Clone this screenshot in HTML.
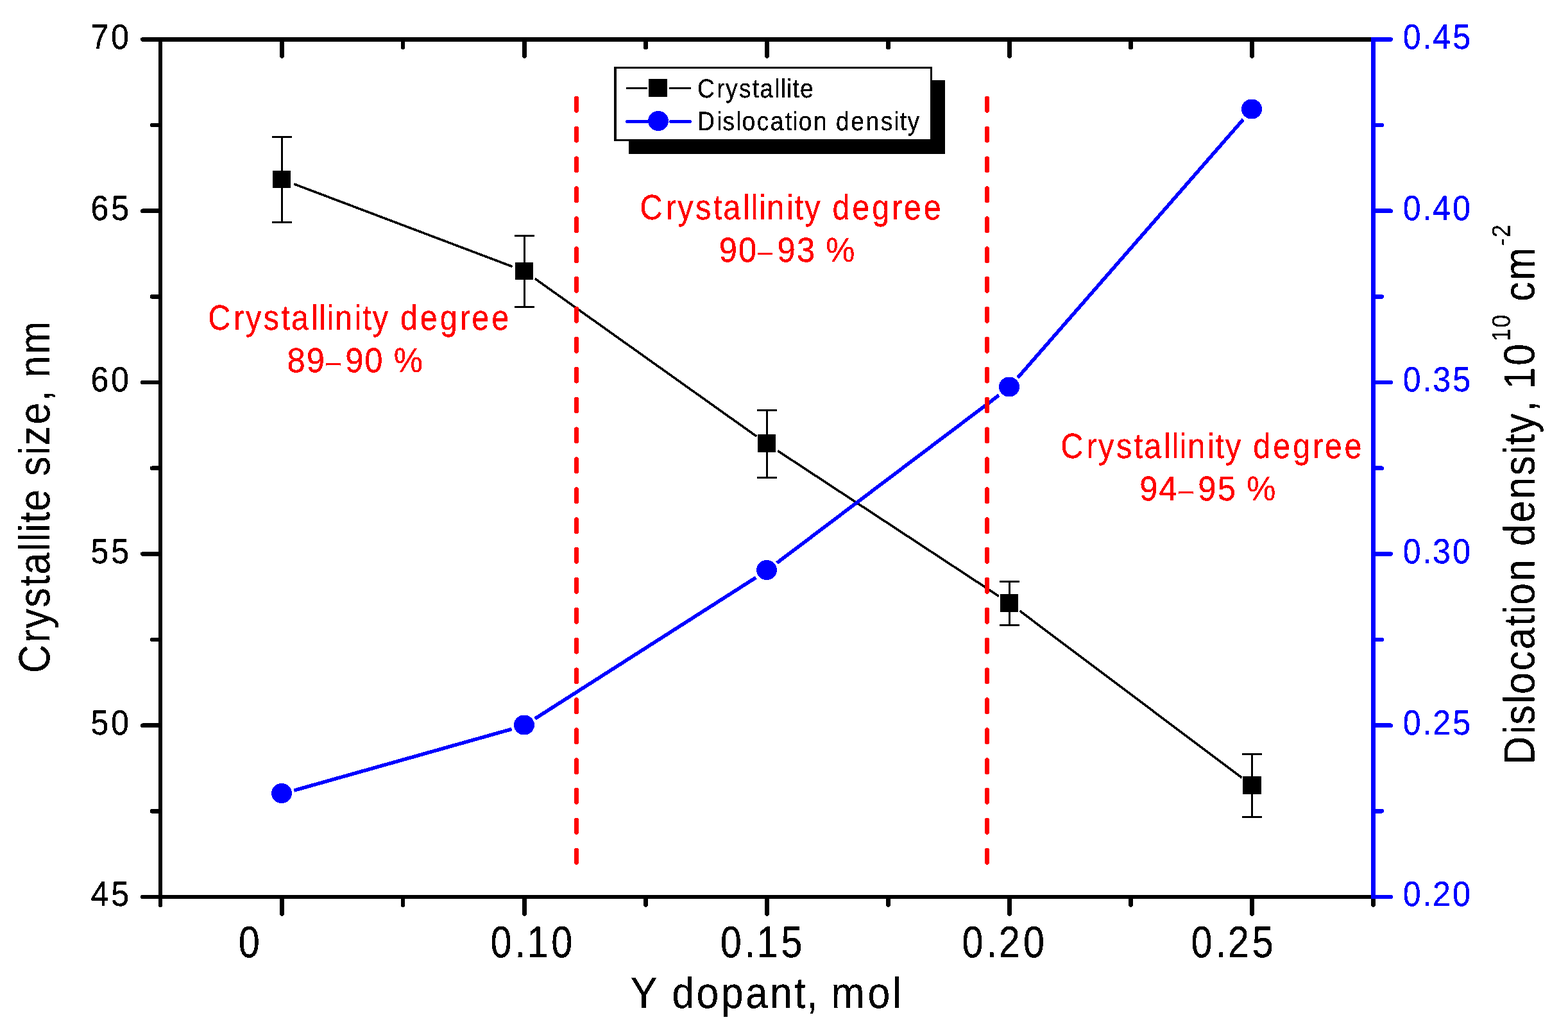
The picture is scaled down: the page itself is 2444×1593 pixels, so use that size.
<!DOCTYPE html>
<html lang="en"><head><meta charset="utf-8"><title>Crystallite size and dislocation density vs Y dopant</title>
<style>
html,body{margin:0;padding:0;background:#fff;}
body{width:2444px;height:1593px;}
svg{display:block;}
svg text{font-family:"Liberation Sans", sans-serif;white-space:pre;font-kerning:none;text-rendering:geometricPrecision;}
</style></head><body>
<svg width="2444" height="1593" viewBox="0 0 2444 1593" shape-rendering="crispEdges">
<defs>
<filter id="crisp" filterUnits="userSpaceOnUse" x="0" y="0" width="2444" height="1593" color-interpolation-filters="sRGB">
<feComponentTransfer><feFuncA type="discrete" tableValues="0 1"/></feComponentTransfer>
</filter>
</defs>
<rect x="0" y="0" width="2444" height="1593" fill="#fff"/>
<g id="series-crystallite">
<line x1="458.21" y1="286.78" x2="798.79" y2="415.62" stroke="#000" stroke-width="3.6" stroke-linecap="butt"/>
<line x1="833.80" y1="434.30" x2="1179.20" y2="680.10" stroke="#000" stroke-width="3.6" stroke-linecap="butt"/>
<line x1="1212.21" y1="702.69" x2="1556.79" y2="929.21" stroke="#000" stroke-width="3.6" stroke-linecap="butt"/>
<line x1="1589.49" y1="952.21" x2="1935.51" y2="1212.19" stroke="#000" stroke-width="3.6" stroke-linecap="butt"/>
<line x1="439.50" y1="213.50" x2="439.50" y2="346.50" stroke="#000" stroke-width="3" stroke-linecap="butt"/>
<line x1="425.50" y1="213.50" x2="453.50" y2="213.50" stroke="#000" stroke-width="3" stroke-linecap="round"/>
<line x1="425.50" y1="346.50" x2="453.50" y2="346.50" stroke="#000" stroke-width="3" stroke-linecap="round"/>
<rect x="425" y="266" width="28" height="27" fill="#000"/>
<line x1="817.50" y1="367.50" x2="817.50" y2="478.50" stroke="#000" stroke-width="3" stroke-linecap="butt"/>
<line x1="803.50" y1="367.50" x2="831.50" y2="367.50" stroke="#000" stroke-width="3" stroke-linecap="round"/>
<line x1="803.50" y1="478.50" x2="831.50" y2="478.50" stroke="#000" stroke-width="3" stroke-linecap="round"/>
<rect x="803" y="409" width="28" height="27" fill="#000"/>
<line x1="1195.50" y1="639.50" x2="1195.50" y2="744.50" stroke="#000" stroke-width="3" stroke-linecap="butt"/>
<line x1="1181.50" y1="639.50" x2="1209.50" y2="639.50" stroke="#000" stroke-width="3" stroke-linecap="round"/>
<line x1="1181.50" y1="744.50" x2="1209.50" y2="744.50" stroke="#000" stroke-width="3" stroke-linecap="round"/>
<rect x="1181" y="677" width="28" height="28" fill="#000"/>
<line x1="1573.50" y1="906.50" x2="1573.50" y2="974.50" stroke="#000" stroke-width="3" stroke-linecap="butt"/>
<line x1="1559.50" y1="906.50" x2="1587.50" y2="906.50" stroke="#000" stroke-width="3" stroke-linecap="round"/>
<line x1="1559.50" y1="974.50" x2="1587.50" y2="974.50" stroke="#000" stroke-width="3" stroke-linecap="round"/>
<rect x="1559" y="926" width="28" height="28" fill="#000"/>
<line x1="1951.50" y1="1175.50" x2="1951.50" y2="1273.50" stroke="#000" stroke-width="3" stroke-linecap="butt"/>
<line x1="1937.50" y1="1175.50" x2="1965.50" y2="1175.50" stroke="#000" stroke-width="3" stroke-linecap="round"/>
<line x1="1937.50" y1="1273.50" x2="1965.50" y2="1273.50" stroke="#000" stroke-width="3" stroke-linecap="round"/>
<rect x="1937" y="1210" width="29" height="28" fill="#000"/>
</g>
<g id="series-dislocation">
<line x1="458.25" y1="1232.08" x2="797.75" y2="1136.42" stroke="#00f" stroke-width="5.6" stroke-linecap="butt"/>
<line x1="833.85" y1="1120.23" x2="1178.15" y2="900.27" stroke="#00f" stroke-width="5.6" stroke-linecap="butt"/>
<line x1="1210.96" y1="877.45" x2="1557.04" y2="616.05" stroke="#00f" stroke-width="5.6" stroke-linecap="butt"/>
<line x1="1586.15" y1="588.93" x2="1937.85" y2="186.07" stroke="#00f" stroke-width="5.6" stroke-linecap="butt"/>
<ellipse cx="439" cy="1236.5" rx="16" ry="15.5" fill="#00f"/>
<ellipse cx="817" cy="1130" rx="16" ry="15.5" fill="#00f"/>
<ellipse cx="1195" cy="888.5" rx="16" ry="15.5" fill="#00f"/>
<ellipse cx="1573" cy="603" rx="16" ry="15.5" fill="#00f"/>
<ellipse cx="1951" cy="170" rx="16" ry="15.5" fill="#00f"/>
</g>
<g id="region-dividers">
<line x1="898.50" y1="153.20" x2="898.50" y2="1344.60" stroke="#f00" stroke-width="7" stroke-linecap="round" stroke-dasharray="19 27.88"/>
<line x1="1538.50" y1="153.20" x2="1538.50" y2="1344.60" stroke="#f00" stroke-width="7" stroke-linecap="round" stroke-dasharray="19 27.88"/>
</g>
<g id="axes">
<rect x="222" y="58" width="1918" height="7" fill="#000"/>
<line x1="222.25" y1="61.40" x2="250.00" y2="61.40" stroke="#000" stroke-width="6.5" stroke-linecap="round"/>
<line x1="439.50" y1="61.50" x2="439.50" y2="87.75" stroke="#000" stroke-width="6.5" stroke-linecap="round"/>
<line x1="817.50" y1="61.50" x2="817.50" y2="87.75" stroke="#000" stroke-width="6.5" stroke-linecap="round"/>
<line x1="1195.50" y1="61.50" x2="1195.50" y2="87.75" stroke="#000" stroke-width="6.5" stroke-linecap="round"/>
<line x1="1573.50" y1="61.50" x2="1573.50" y2="87.75" stroke="#000" stroke-width="6.5" stroke-linecap="round"/>
<line x1="1951.50" y1="61.50" x2="1951.50" y2="87.75" stroke="#000" stroke-width="6.5" stroke-linecap="round"/>
<line x1="628.00" y1="61.50" x2="628.00" y2="74.00" stroke="#000" stroke-width="6.5" stroke-linecap="round"/>
<line x1="1006.50" y1="61.50" x2="1006.50" y2="74.00" stroke="#000" stroke-width="6.5" stroke-linecap="round"/>
<line x1="1384.50" y1="61.50" x2="1384.50" y2="74.00" stroke="#000" stroke-width="6.5" stroke-linecap="round"/>
<line x1="1762.50" y1="61.50" x2="1762.50" y2="74.00" stroke="#000" stroke-width="6.5" stroke-linecap="round"/>
<rect x="222" y="1395" width="1918" height="6" fill="#000"/>
<line x1="222.25" y1="1398.00" x2="250.00" y2="1398.00" stroke="#000" stroke-width="6.5" stroke-linecap="round"/>
<line x1="439.50" y1="1398.00" x2="439.50" y2="1424.75" stroke="#000" stroke-width="6.5" stroke-linecap="round"/>
<line x1="817.50" y1="1398.00" x2="817.50" y2="1424.75" stroke="#000" stroke-width="6.5" stroke-linecap="round"/>
<line x1="1195.50" y1="1398.00" x2="1195.50" y2="1424.75" stroke="#000" stroke-width="6.5" stroke-linecap="round"/>
<line x1="1573.50" y1="1398.00" x2="1573.50" y2="1424.75" stroke="#000" stroke-width="6.5" stroke-linecap="round"/>
<line x1="1951.50" y1="1398.00" x2="1951.50" y2="1424.75" stroke="#000" stroke-width="6.5" stroke-linecap="round"/>
<line x1="628.00" y1="1398.00" x2="628.00" y2="1410.75" stroke="#000" stroke-width="6.5" stroke-linecap="round"/>
<line x1="1006.50" y1="1398.00" x2="1006.50" y2="1410.75" stroke="#000" stroke-width="6.5" stroke-linecap="round"/>
<line x1="1384.50" y1="1398.00" x2="1384.50" y2="1410.75" stroke="#000" stroke-width="6.5" stroke-linecap="round"/>
<line x1="1762.50" y1="1398.00" x2="1762.50" y2="1410.75" stroke="#000" stroke-width="6.5" stroke-linecap="round"/>
<line x1="2140.50" y1="1398.00" x2="2140.50" y2="1410.75" stroke="#000" stroke-width="6.5" stroke-linecap="round"/>
<rect x="247" y="58" width="6" height="1340" fill="#000"/>
<line x1="250.00" y1="1398.00" x2="250.00" y2="1410.75" stroke="#000" stroke-width="6.5" stroke-linecap="round"/>
<line x1="222.25" y1="328.72" x2="250.00" y2="328.72" stroke="#000" stroke-width="6.5" stroke-linecap="round"/>
<line x1="222.25" y1="596.04" x2="250.00" y2="596.04" stroke="#000" stroke-width="6.5" stroke-linecap="round"/>
<line x1="222.25" y1="863.36" x2="250.00" y2="863.36" stroke="#000" stroke-width="6.5" stroke-linecap="round"/>
<line x1="222.25" y1="1130.68" x2="250.00" y2="1130.68" stroke="#000" stroke-width="6.5" stroke-linecap="round"/>
<line x1="237.00" y1="195.06" x2="250.00" y2="195.06" stroke="#000" stroke-width="6.5" stroke-linecap="round"/>
<line x1="237.00" y1="462.38" x2="250.00" y2="462.38" stroke="#000" stroke-width="6.5" stroke-linecap="round"/>
<line x1="237.00" y1="729.70" x2="250.00" y2="729.70" stroke="#000" stroke-width="6.5" stroke-linecap="round"/>
<line x1="237.00" y1="997.02" x2="250.00" y2="997.02" stroke="#000" stroke-width="6.5" stroke-linecap="round"/>
<line x1="237.00" y1="1264.34" x2="250.00" y2="1264.34" stroke="#000" stroke-width="6.5" stroke-linecap="round"/>
<rect x="2137" y="58" width="7" height="1343" fill="#00f"/>
<line x1="2140.50" y1="61.40" x2="2167.75" y2="61.40" stroke="#00f" stroke-width="6.5" stroke-linecap="round"/>
<line x1="2140.50" y1="328.72" x2="2167.75" y2="328.72" stroke="#00f" stroke-width="6.5" stroke-linecap="round"/>
<line x1="2140.50" y1="596.04" x2="2167.75" y2="596.04" stroke="#00f" stroke-width="6.5" stroke-linecap="round"/>
<line x1="2140.50" y1="863.36" x2="2167.75" y2="863.36" stroke="#00f" stroke-width="6.5" stroke-linecap="round"/>
<line x1="2140.50" y1="1130.68" x2="2167.75" y2="1130.68" stroke="#00f" stroke-width="6.5" stroke-linecap="round"/>
<line x1="2140.50" y1="1398.00" x2="2167.75" y2="1398.00" stroke="#00f" stroke-width="6.5" stroke-linecap="round"/>
<line x1="2140.50" y1="195.06" x2="2153.75" y2="195.06" stroke="#00f" stroke-width="6.5" stroke-linecap="round"/>
<line x1="2140.50" y1="462.38" x2="2153.75" y2="462.38" stroke="#00f" stroke-width="6.5" stroke-linecap="round"/>
<line x1="2140.50" y1="729.70" x2="2153.75" y2="729.70" stroke="#00f" stroke-width="6.5" stroke-linecap="round"/>
<line x1="2140.50" y1="997.02" x2="2153.75" y2="997.02" stroke="#00f" stroke-width="6.5" stroke-linecap="round"/>
<line x1="2140.50" y1="1264.34" x2="2153.75" y2="1264.34" stroke="#00f" stroke-width="6.5" stroke-linecap="round"/>
</g>
<g id="legend-box">
<rect x="980" y="125" width="493" height="115" fill="#000"/>
<rect x="957" y="104" width="496" height="116" fill="#000"/>
<rect x="961" y="107" width="489" height="110" fill="#fff"/>
<line x1="977.50" y1="137.50" x2="1008.00" y2="137.50" stroke="#000" stroke-width="3" stroke-linecap="round"/>
<line x1="1044.50" y1="137.50" x2="1075.50" y2="137.50" stroke="#000" stroke-width="3" stroke-linecap="round"/>
<rect x="1011" y="123" width="29" height="28" fill="#000"/>
<line x1="977.50" y1="189.50" x2="1008.00" y2="189.50" stroke="#00f" stroke-width="5" stroke-linecap="round"/>
<line x1="1045.50" y1="189.50" x2="1075.50" y2="189.50" stroke="#00f" stroke-width="5" stroke-linecap="round"/>
<ellipse cx="1026" cy="188.5" rx="16" ry="15.5" fill="#00f"/>
</g>
<g id="text" filter="url(#crisp)">
<g id="ticklabels">
<text transform="translate(144.00 75.90) scale(0.93 1.008)" fill="#000" stroke="#000" stroke-width="0.3" stroke-linejoin="round"><tspan x="-2.76 31.22" y="0.00" font-size="54">70</tspan></text>
<text transform="translate(144.00 343.20) scale(0.93 1.008)" fill="#000" stroke="#000" stroke-width="0.3" stroke-linejoin="round"><tspan x="-2.60 31.38" y="0.00" font-size="54">65</tspan></text>
<text transform="translate(144.00 610.50) scale(0.93 1.008)" fill="#000" stroke="#000" stroke-width="0.3" stroke-linejoin="round"><tspan x="-2.76 31.22" y="0.00" font-size="54">60</tspan></text>
<text transform="translate(144.00 877.80) scale(0.93 1.008)" fill="#000" stroke="#000" stroke-width="0.3" stroke-linejoin="round"><tspan x="-2.60 31.38" y="0.00" font-size="54">55</tspan></text>
<text transform="translate(144.00 1145.10) scale(0.93 1.008)" fill="#000" stroke="#000" stroke-width="0.3" stroke-linejoin="round"><tspan x="-2.76 31.22" y="0.00" font-size="54">50</tspan></text>
<text transform="translate(144.00 1412.40) scale(0.93 1.008)" fill="#000" stroke="#000" stroke-width="0.3" stroke-linejoin="round"><tspan x="-2.60 31.38" y="0.00" font-size="54">45</tspan></text>
<text transform="translate(2188.70 75.90) scale(0.93 1.008)" fill="#00f" stroke="#00f" stroke-width="0.3" stroke-linejoin="round"><tspan x="-2.11 31.20 47.85 81.16" y="0.00" font-size="54">0.45</tspan></text>
<text transform="translate(2188.70 343.20) scale(0.93 1.008)" fill="#00f" stroke="#00f" stroke-width="0.3" stroke-linejoin="round"><tspan x="-2.11 31.14 47.75 81.00" y="0.00" font-size="54">0.40</tspan></text>
<text transform="translate(2188.70 610.50) scale(0.93 1.008)" fill="#00f" stroke="#00f" stroke-width="0.3" stroke-linejoin="round"><tspan x="-2.11 31.20 47.85 81.16" y="0.00" font-size="54">0.35</tspan></text>
<text transform="translate(2188.70 877.80) scale(0.93 1.008)" fill="#00f" stroke="#00f" stroke-width="0.3" stroke-linejoin="round"><tspan x="-2.11 31.14 47.75 81.00" y="0.00" font-size="54">0.30</tspan></text>
<text transform="translate(2188.70 1145.10) scale(0.93 1.008)" fill="#00f" stroke="#00f" stroke-width="0.3" stroke-linejoin="round"><tspan x="-2.11 31.20 47.85 81.16" y="0.00" font-size="54">0.25</tspan></text>
<text transform="translate(2188.70 1412.40) scale(0.93 1.008)" fill="#00f" stroke="#00f" stroke-width="0.3" stroke-linejoin="round"><tspan x="-2.11 31.14 47.75 81.00" y="0.00" font-size="54">0.20</tspan></text>
<text transform="translate(374.00 1492.00) scale(0.875 1.015)" fill="#000" stroke="#000" stroke-width="0.3" stroke-linejoin="round"><tspan x="-2.66" y="0.00" font-size="68">0</tspan></text>
<text transform="translate(766.80 1492.00) scale(0.875 1.015)" fill="#000" stroke="#000" stroke-width="0.3" stroke-linejoin="round"><tspan x="-2.66 40.67 62.31 105.64" y="0.00" font-size="68">0.10</tspan></text>
<text transform="translate(1125.00 1492.00) scale(0.875 1.015)" fill="#000" stroke="#000" stroke-width="0.3" stroke-linejoin="round"><tspan x="-2.66 40.66 62.30 105.61" y="0.00" font-size="68">0.15</tspan></text>
<text transform="translate(1501.70 1492.00) scale(0.875 1.015)" fill="#000" stroke="#000" stroke-width="0.3" stroke-linejoin="round"><tspan x="-2.66 41.03 62.86 106.55" y="0.00" font-size="68">0.20</tspan></text>
<text transform="translate(1858.90 1492.00) scale(0.875 1.015)" fill="#000" stroke="#000" stroke-width="0.3" stroke-linejoin="round"><tspan x="-2.66 40.89 62.64 106.18" y="0.00" font-size="68">0.25</tspan></text>
</g>
<g id="titles">
<text transform="translate(984.00 1571.00) scale(0.92 1)" fill="#000" stroke="#000" stroke-width="0.3" stroke-linejoin="round"><tspan x="-1.49 48.25 68.98 110.46 151.94 193.42 234.90 276.38 297.10 317.83 338.55 400.68 442.16" y="0.00" font-size="68">Y dopant, mol</tspan></text>
<text transform="translate(77.00 1046.00) rotate(-90) scale(0.9 1)" fill="#000" stroke="#000" stroke-width="0.3" stroke-linejoin="round"><tspan x="-3.45 49.33 73.67 110.22 146.76 167.07 207.72 223.96 240.20 256.44 276.75 317.40 337.70 374.25 390.49 427.03 467.68 487.99 508.30 548.95" y="0.00" font-size="68">Crystallite size, nm</tspan></text>
<text transform="translate(2391.50 1187.00) rotate(-90) scale(0.9 1)" fill="#000" stroke="#000" stroke-width="0.3" stroke-linejoin="round"><tspan x="-5.58 47.34 63.62 100.25 116.53 157.28 193.92 234.67 255.03 271.31 312.06 352.81 373.17 413.92 454.67 495.42 532.06 548.34 568.69 605.55 625.91 644.94 685.69" y="0.00" font-size="68">Dislocation density, 10</tspan><tspan x="727.55 751.52" y="-38.00" font-size="40">10</tspan><tspan x="776.38 796.74 833.38" y="0.00" font-size="68"> cm</tspan><tspan x="893.19 907.54" y="-38.00" font-size="40">-2</tspan></text>
</g>
<g id="annotations">
<text transform="translate(326.70 514.00) scale(0.9 1.02)" fill="#f00" stroke="#f00" stroke-width="0.3" stroke-linejoin="round"><tspan x="-2.74 41.87 62.45 93.34 124.23 141.40 175.76 189.48 203.21 216.93 251.29 265.02 282.19 313.08 330.24 364.60 398.96 433.32 453.90 488.26" y="0.00" font-size="54">Crystallinity degree</tspan></text>
<text transform="translate(449.70 580.30) scale(0.94 1)" fill="#f00" stroke="#f00" stroke-width="0.3" stroke-linejoin="round"><tspan x="-2.35 29.80" y="0.00" font-size="54">89</tspan><tspan x="61.95" y="-1.50" font-size="44">–</tspan><tspan x="94.09 126.24 158.38 174.44" y="0.00" font-size="54">90 %</tspan></text>
<text transform="translate(1000.00 341.70) scale(0.9 1.02)" fill="#f00" stroke="#f00" stroke-width="0.3" stroke-linejoin="round"><tspan x="-2.74 41.91 62.49 93.40 124.32 141.49 175.88 189.61 203.35 217.08 251.47 265.20 282.38 313.29 330.47 364.85 399.23 433.62 454.21 488.59" y="0.00" font-size="54">Crystallinity degree</tspan></text>
<text transform="translate(1123.00 408.30) scale(0.94 1)" fill="#f00" stroke="#f00" stroke-width="0.3" stroke-linejoin="round"><tspan x="-2.53 29.73" y="0.00" font-size="54">90</tspan><tspan x="61.98" y="-1.50" font-size="44">–</tspan><tspan x="94.24 126.50 158.75 174.87" y="0.00" font-size="54">93 %</tspan></text>
<text transform="translate(1655.80 714.30) scale(0.9 1.02)" fill="#f00" stroke="#f00" stroke-width="0.3" stroke-linejoin="round"><tspan x="-2.74 41.92 62.51 93.43 124.35 141.53 175.92 189.66 203.39 217.13 251.52 265.26 282.44 313.36 330.54 364.93 399.33 433.72 454.31 488.70" y="0.00" font-size="54">Crystallinity degree</tspan></text>
<text transform="translate(1778.60 780.30) scale(0.94 1)" fill="#f00" stroke="#f00" stroke-width="0.3" stroke-linejoin="round"><tspan x="-2.53 29.78" y="0.00" font-size="54">94</tspan><tspan x="62.10" y="-1.50" font-size="44">–</tspan><tspan x="94.41 126.73 159.04 175.19" y="0.00" font-size="54">95 %</tspan></text>
</g>
<g id="legend-labels">
<text transform="translate(1089.00 152.00) scale(0.9 1)" fill="#000" stroke="#000" stroke-width="0.3" stroke-linejoin="round"><tspan x="-2.10 31.37 46.80 69.96 93.13 106.01 131.78 142.07 152.36 162.66 175.53" y="0.00" font-size="41.3">Crystallite</tspan></text>
<text transform="translate(1090.00 203.00) scale(0.9 1)" fill="#000" stroke="#000" stroke-width="0.3" stroke-linejoin="round"><tspan x="-3.39 30.15 40.46 63.68 74.00 99.82 123.04 148.86 161.76 172.08 197.91 223.73 236.63 262.46 288.28 314.11 337.32 347.64 360.54" y="0.00" font-size="41.3">Dislocation density</tspan></text>
</g>
</g>
</svg>
</body></html>
